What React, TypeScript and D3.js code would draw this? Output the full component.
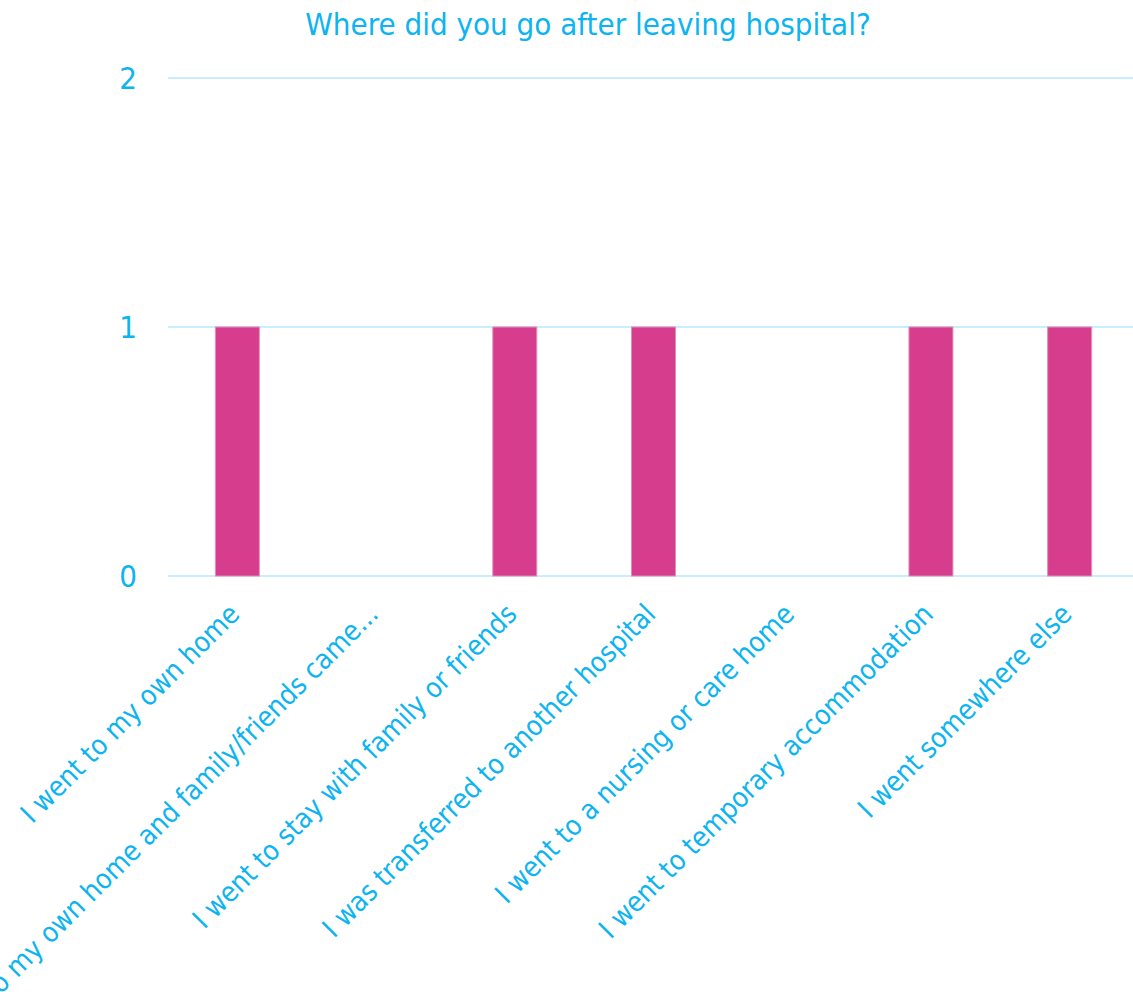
import React from "react";
import * as d3 from "d3";

const categories = [
  "I went to my own home",
  "I went to my own home and family/friends came...",
  "I went to stay with family or friends",
  "I was transferred to another hospital",
  "I went to a nursing or care home",
  "I went to temporary accommodation",
  "I went somewhere else",
];
const counts = [1, 0, 1, 1, 0, 1, 1];
const yTicks = [0, 1, 2];
const title = "Where did you go after leaving hospital?";

const W = 1133;
const H = 992;
const BLUE = "#0DB4F0";
const FONT = "'DejaVu Sans Condensed', 'DejaVu Sans', sans-serif";

export default function App() {
  const x = d3
    .scaleBand<string>()
    .domain(categories)
    .range([168, 1139])
    .paddingInner(0.683)
    .paddingOuter(0.3415);
  const y = d3.scaleLinear().domain([0, 2]).range([576, 78]);

  return (
    <svg
      width={W}
      height={H}
      style={{ position: "fixed", left: 0, top: 0, background: "#fff" }}
      fontFamily={FONT}
    >
      <text x={588} y={35} textAnchor="middle" fill={BLUE} fontSize={31}>
        {title}
      </text>
      {yTicks.map((t) => (
        <g key={t}>
          <line x1={168} x2={W} y1={y(t)} y2={y(t)} stroke="#C8EFFF" strokeWidth={2} />
          <text x={137} y={y(t)} dy="0.36em" textAnchor="end" fill={BLUE} fontSize={31}>
            {t}
          </text>
        </g>
      ))}
      {categories.map((c, i) =>
        counts[i] > 0 ? (
          <rect
            key={c}
            x={x(c)!}
            y={y(counts[i])}
            width={x.bandwidth()}
            height={y(0) - y(counts[i])}
            fill="#D63D8D"
            stroke="#E68BBA"
            strokeWidth={1}
          />
        ) : null
      )}
      {categories.map((c) => {
        const cx = x(c)! + x.bandwidth() / 2;
        return (
          <text
            key={c}
            transform={`translate(${cx - 10},${602}) rotate(-45)`}
            textAnchor="end"
            dy="0.7em"
            fill={BLUE}
            fontSize={27.8}
          >
            {c}
          </text>
        );
      })}
    </svg>
  );
}
